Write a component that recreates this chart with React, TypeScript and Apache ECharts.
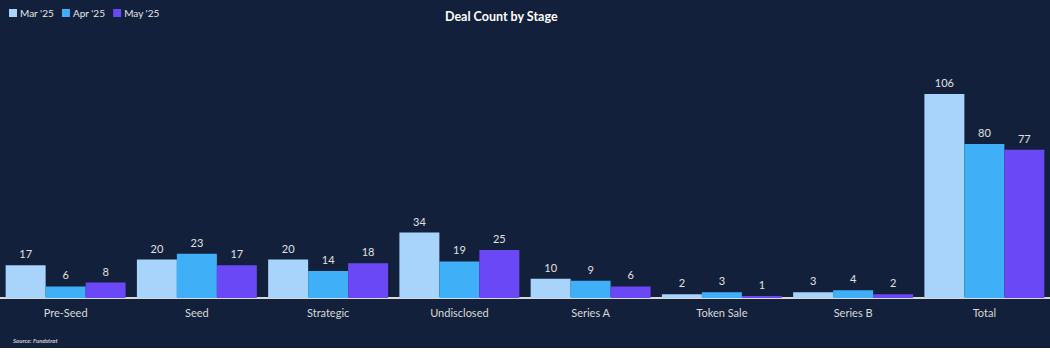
import React, { useEffect, useRef } from "react";
import * as echarts from "echarts";

const categories = ["Pre-Seed", "Seed", "Strategic", "Undisclosed", "Series A", "Token Sale", "Series B", "Total"];
const seriesNames = ["Mar '25", "Apr '25", "May '25"];
const mar25 = [17, 20, 20, 34, 10, 2, 3, 106];
const apr25 = [6, 23, 14, 19, 9, 3, 4, 80];
const may25 = [8, 17, 18, 25, 6, 1, 2, 77];
const colors = ["#a8d3fa", "#3fb0f8", "#6a48f5"];

export default function App() {
  const ref = useRef<HTMLDivElement>(null);
  useEffect(() => {
    document.body.style.margin = "0";
    const chart = echarts.init(ref.current!, undefined, { renderer: "svg" });
    const font = "Lato, 'Open Sans', sans-serif";
    const data = [mar25, apr25, may25];
    chart.setOption({
      animation: false,
      backgroundColor: "#12203b",
      textStyle: { fontFamily: font },
      title: {
        text: "Deal Count by Stage",
        left: 440,
        top: 5,
        textStyle: { color: "#ffffff", fontSize: 12.5, fontWeight: "bold", fontFamily: font },
      },
      legend: {
        left: 4,
        top: 3,
        itemWidth: 8,
        itemHeight: 8,
        itemGap: 8,
        icon: "rect",
        textStyle: { color: "#e6e6e6", fontSize: 10, fontFamily: font, padding: [0, 0, 0, -2] },
        data: seriesNames,
      },
      grid: { left: 0, right: 0, top: 67, bottom: 50 },
      xAxis: {
        type: "category",
        data: categories,
        axisLine: { lineStyle: { color: "#d9d9d9", width: 2 } },
        axisTick: { show: false },
        axisLabel: { color: "#d9d9d9", fontSize: 11, margin: 9, fontFamily: font },
      },
      yAxis: {
        type: "value",
        min: 0,
        max: 120,
        show: false,
        splitLine: { show: false },
      },
      series: seriesNames.map((name, i) => ({
        name,
        type: "bar",
        data: data[i],
        barGap: "0%",
        barCategoryGap: "8.6%",
        itemStyle: { color: colors[i] },
        label: {
          show: true,
          position: "top",
          distance: 6,
          color: "#e0e0e0",
          fontSize: 11,
          fontFamily: font,
        },
      })),
      graphic: [
        {
          type: "text",
          left: 13,
          top: 337,
          style: {
            text: "Source: Fundstrat",
            fill: "#cfcfcf",
            font: "italic bold 6px Lato, sans-serif",
          },
        },
      ],
    });
    return () => chart.dispose();
  }, []);
  return <div ref={ref} style={{ width: 1050, height: 348 }} />;
}
